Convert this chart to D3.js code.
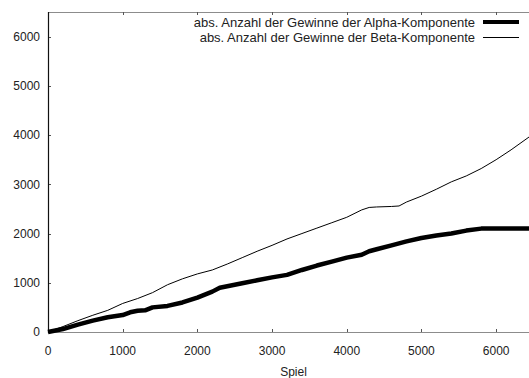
<!DOCTYPE html>
<html>
<head>
<meta charset="utf-8">
<script src="https://cdn.jsdelivr.net/npm/d3@7"></script>
<style>
  body { margin: 0; background: #fff; }
  text { font-family: "Liberation Sans", Arial, sans-serif; fill: #222; }
</style>
</head>
<body>
<div id="chart"></div>
<script>
// games (x) and cumulative wins (y)
var alphaGames = [0, 200, 400, 600, 800, 1000, 1100, 1200, 1300, 1400, 1600, 1800, 2000, 2200, 2300, 2400, 2600, 2800, 3000, 3200, 3400, 3600, 3800, 4000, 4200, 4300, 4400, 4600, 4800, 5000, 5200, 5400, 5600, 5800, 6000, 6440];
var alphaWins  = [0, 60, 150, 230, 300, 345, 400, 430, 440, 500, 530, 600, 700, 820, 900, 930, 990, 1050, 1110, 1160, 1260, 1350, 1430, 1510, 1570, 1640, 1680, 1760, 1840, 1910, 1960, 2000, 2060, 2100, 2100, 2100];

var betaGames = [0, 200, 400, 600, 800, 1000, 1200, 1400, 1600, 1800, 2000, 2200, 2400, 2600, 2800, 3000, 3200, 3400, 3600, 3800, 4000, 4200, 4300, 4400, 4600, 4700, 4800, 5000, 5200, 5400, 5600, 5800, 6000, 6200, 6440];
var betaWins  = [0, 110, 230, 340, 440, 580, 680, 800, 960, 1080, 1180, 1260, 1380, 1510, 1640, 1760, 1890, 2000, 2110, 2220, 2330, 2480, 2530, 2540, 2550, 2560, 2640, 2760, 2900, 3050, 3170, 3320, 3500, 3700, 3960];

var yTicks = [0, 1000, 2000, 3000, 4000, 5000, 6000];
var xTicks = [0, 1000, 2000, 3000, 4000, 5000, 6000];
var legendLabels = ["abs. Anzahl der Gewinne der Alpha-Komponente", "abs. Anzahl der Gewinne der Beta-Komponente"];
var xLabel = "Spiel";

var W = 529, H = 378;
var margin = {top: 12, left: 48, bottom: 332, right: 529};

var svg = d3.select("#chart").append("svg")
  .attr("width", W)
  .attr("height", H);

var xScale = d3.scaleLinear().domain([0, 6440]).range([margin.left, margin.right]);
var yScale = d3.scaleLinear().domain([0, 6500]).range([margin.bottom, margin.top]);

// frame lines
svg.append("line")
  .attr("x1", margin.left).attr("x2", margin.right)
  .attr("y1", margin.bottom + 0.5).attr("y2", margin.bottom + 0.5)
  .attr("stroke", "#8c8c8c").attr("stroke-width", 1.2);
svg.append("line")
  .attr("x1", margin.left).attr("x2", margin.right)
  .attr("y1", margin.top + 0.5).attr("y2", margin.top + 0.5)
  .attr("stroke", "#8c8c8c").attr("stroke-width", 1.2);

// x ticks bottom and top (inward)
xTicks.forEach(function(t) {
  var x = Math.round(xScale(t)) + 0.5;
  svg.append("line").attr("x1", x).attr("x2", x)
    .attr("y1", margin.bottom).attr("y2", margin.bottom - 3)
    .attr("stroke", "#555");
  svg.append("line").attr("x1", x).attr("x2", x)
    .attr("y1", margin.top).attr("y2", margin.top + 3)
    .attr("stroke", "#555");
  svg.append("text")
    .attr("x", xScale(t)).attr("y", 355)
    .attr("text-anchor", "middle")
    .style("font-size", "12px")
    .text(t);
});

// y ticks
yTicks.forEach(function(t) {
  var y = Math.round(yScale(t)) + 0.5;
  svg.append("line").attr("x1", margin.left).attr("x2", margin.left + 3)
    .attr("y1", y).attr("y2", y)
    .attr("stroke", "#555");
  svg.append("text")
    .attr("x", 40).attr("y", yScale(t))
    .attr("dy", "0.36em")
    .attr("text-anchor", "end")
    .style("font-size", "12px")
    .text(t);
});

svg.append("line")
  .attr("x1", margin.left + 0.5).attr("x2", margin.left + 0.5)
  .attr("y1", margin.top).attr("y2", margin.bottom + 1)
  .attr("stroke", "#111").attr("stroke-width", 1.2);

svg.append("text")
  .attr("x", (margin.left + margin.right) / 2 + 5).attr("y", 376)
  .attr("text-anchor", "middle")
  .style("font-size", "12px")
  .text(xLabel);

var line = d3.line()
  .x(function(d) { return xScale(d[0]); })
  .y(function(d) { return yScale(d[1]); });

var betaData = betaGames.map(function(g, i) { return [g, betaWins[i]]; });
var alphaData = alphaGames.map(function(g, i) { return [g, alphaWins[i]]; });

svg.append("path")
  .datum(betaData)
  .attr("fill", "none")
  .attr("stroke", "#000")
  .attr("stroke-width", 1)
  .attr("d", line);

svg.append("path")
  .datum(alphaData)
  .attr("fill", "none")
  .attr("stroke", "#000")
  .attr("stroke-width", 4.5)
  .attr("stroke-linejoin", "round")
  .attr("d", line);

// legend
var widths = [4, 1];
legendLabels.forEach(function(lab, i) {
  var y = 22 + i * 15.5;
  svg.append("text")
    .attr("x", 475).attr("y", y)
    .attr("dy", "0.36em")
    .attr("text-anchor", "end")
    .style("font-size", "13px")
    .text(lab);
  svg.append("line")
    .attr("x1", 483).attr("x2", 519)
    .attr("y1", y).attr("y2", y)
    .attr("stroke", "#000")
    .attr("stroke-width", widths[i]);
});
</script>
</body>
</html>
